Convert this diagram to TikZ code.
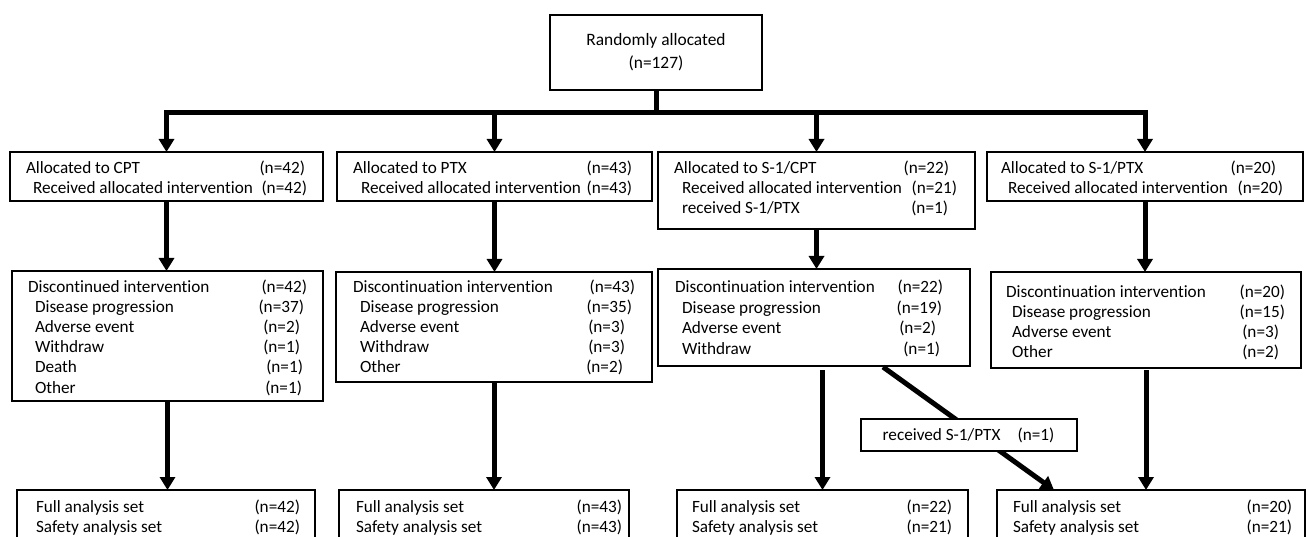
\documentclass[tikz,border=0pt]{standalone}
\usepackage{fontspec}
\setmainfont[Ligatures=NoCommon]{Carlito}
\usetikzlibrary{arrows.meta}
\tikzset{
  box/.style={draw, line width=1.6pt, inner sep=0pt, outer sep=0pt, fill=white},
  lbl/.style={inner sep=0pt, outer sep=0pt, text height=10.5pt, text depth=0pt, font=\fontsize{17.2pt}{20pt}\selectfont},
  biglbl/.style={lbl, font=\fontsize{17.4pt}{20pt}\selectfont},
  lw/.style={lbl, anchor=west},
  le/.style={lbl, anchor=east},
  conn/.style={line width=5pt},
  arr/.style={line width=5pt, -{Triangle[length=13pt,width=15pt]}},
}
\begin{document}
\begin{tikzpicture}[x=1pt,y=-1pt]
\useasboundingbox (0,0) rectangle (1308,537);
% top
\node[box, minimum width=212pt, minimum height=75pt] (top) at (656,52.5) {};
\node[biglbl] (topa) at (656,40) {Randomly allocated};
\node[biglbl] (topb) at (656,63) {(n=127)};
% row 1 boxes
\node[box, minimum width=313pt, minimum height=49pt] (r1a) at (166.5,176.5) {};
\node[box, minimum width=315pt, minimum height=49pt] (r1b) at (494.5,176.5) {};
\node[box, minimum width=317pt, minimum height=77pt] (r1c) at (816.5,190.5) {};
\node[box, minimum width=316pt, minimum height=49pt] (r1d) at (1145,176.5) {};
% row 2 boxes
\node[box, minimum width=311pt, minimum height=130pt] (r2a) at (167.5,336) {};
\node[box, minimum width=316pt, minimum height=110pt] (r2b) at (494,327) {};
\node[box, minimum width=312pt, minimum height=97pt] (r2c) at (814,317.5) {};
\node[box, minimum width=310pt, minimum height=96pt] (r2d) at (1146,320) {};
% row 3 boxes
\node[box, minimum width=298pt, minimum height=70pt] (r3a) at (166,525) {};
\node[box, minimum width=290pt, minimum height=70pt] (r3b) at (484,525) {};
\node[box, minimum width=291pt, minimum height=70pt] (r3c) at (822.5,525) {};
\node[box, minimum width=308pt, minimum height=70pt] (r3d) at (1151,525) {};
% connectors
\coordinate (bar) at (656,113);
\draw[conn] (top.south) -- (bar);
\draw[conn, line cap=rect] (bar -| r1a.north) -- (bar -| r1d.north);
\foreach \b in {r1a,r1b,r1c,r1d}{
  \draw[arr] (bar -| \b.north) -- (\b.north);
}
\draw[arr] (r1a.south) -- (r1a.south |- r2a.north);
\draw[arr] (r1b.south) -- (r1b.south |- r2b.north);
\draw[arr] (r1c.south) -- (r1c.south |- r2c.north);
\draw[arr] (r1d.south) -- (r1d.south |- r2d.north);
\draw[arr] (r2a.south) -- (r2a.south |- r3a.north);
\draw[arr] (r2b.south) -- (r2b.south |- r3b.north);
\draw[arr] ([yshift=-4pt]r2c.south -| r3c.north) -- (r3c.north);
\draw[arr] ([yshift=-2pt]r2d.south) -- (r2d.south |- r3d.north);
\draw[arr] ([xshift=69pt,yshift=-1pt]r2c.south) -- ([xshift=-97pt]r3d.north);
\node[box, minimum width=216pt, minimum height=32pt] (rx) at (969,435) {};
\node[lbl] (rxt) at (968.5,435) {received S-1/PTX\quad (n=1)};
% row 1 text
\node[lw] (r1a1) at (26,168) {Allocated to CPT};
\node[le] (r1a1n) at (305,168) {(n=42)};
\node[lw] (r1a2) at (33,188) {Received allocated intervention};
\node[le] (r1a2n) at (307,188) {(n=42)};
\node[lw] (r1b1) at (353,168) {Allocated to PTX};
\node[le] (r1b1n) at (632,168) {(n=43)};
\node[lw] (r1b2) at (361,188) {Received allocated intervention};
\node[le] (r1b2n) at (632,188) {(n=43)};
\node[lw] (r1c1) at (674,168) {Allocated to S-1/CPT};
\node[le] (r1c1n) at (949,168) {(n=22)};
\node[lw] (r1c2) at (682,188) {Received allocated intervention};
\node[le] (r1c2n) at (957,188) {(n=21)};
\node[lw] (r1c3) at (682,208) {received S-1/PTX};
\node[le] (r1c3n) at (948,208) {(n=1)};
\node[lw] (r1d1) at (1001,168) {Allocated to S-1/PTX};
\node[le] (r1d1n) at (1276,168) {(n=20)};
\node[lw] (r1d2) at (1008,188) {Received allocated intervention};
\node[le] (r1d2n) at (1283,188) {(n=20)};
% row 2 text
\node[lw] (r2a1) at (28,287) {Discontinued intervention};
\node[le] (r2a1n) at (307,287) {(n=42)};
\node[lw] (r2a2) at (35,307) {Disease progression};
\node[le] (r2a2n) at (304,307) {(n=37)};
\node[lw] (r2a3) at (35,327) {Adverse event};
\node[le] (r2a3n) at (300,327) {(n=2)};
\node[lw] (r2a4) at (35,347) {Withdraw};
\node[le] (r2a4n) at (300,347) {(n=1)};
\node[lw] (r2a5) at (35,367) {Death};
\node[le] (r2a5n) at (303,367) {(n=1)};
\node[lw] (r2a6) at (35,388) {Other};
\node[le] (r2a6n) at (302,388) {(n=1)};
\node[lw] (r2b1) at (353,287) {Discontinuation intervention};
\node[le] (r2b1n) at (635,287) {(n=43)};
\node[lw] (r2b2) at (360,307) {Disease progression};
\node[le] (r2b2n) at (632,307) {(n=35)};
\node[lw] (r2b3) at (360,327) {Adverse event};
\node[le] (r2b3n) at (625,327) {(n=3)};
\node[lw] (r2b4) at (360,347) {Withdraw};
\node[le] (r2b4n) at (625,347) {(n=3)};
\node[lw] (r2b5) at (360,367) {Other};
\node[le] (r2b5n) at (623,367) {(n=2)};
\node[lw] (r2c1) at (675,287) {Discontinuation intervention};
\node[le] (r2c1n) at (943,287) {(n=22)};
\node[lw] (r2c2) at (682,308) {Disease progression};
\node[le] (r2c2n) at (942,308) {(n=19)};
\node[lw] (r2c3) at (682,328) {Adverse event};
\node[le] (r2c3n) at (936,328) {(n=2)};
\node[lw] (r2c4) at (682,349) {Withdraw};
\node[le] (r2c4n) at (940,349) {(n=1)};
\node[lw] (r2d1) at (1006,292) {Discontinuation intervention};
\node[le] (r2d1n) at (1285,292) {(n=20)};
\node[lw] (r2d2) at (1012,312) {Disease progression};
\node[le] (r2d2n) at (1285,312) {(n=15)};
\node[lw] (r2d3) at (1012,332) {Adverse event};
\node[le] (r2d3n) at (1279,332) {(n=3)};
\node[lw] (r2d4) at (1012,352) {Other};
\node[le] (r2d4n) at (1279,352) {(n=2)};
% row 3 text
\node[lw] (r3a1) at (36,507) {Full analysis set};
\node[le] (r3a1n) at (300,507) {(n=42)};
\node[lw] (r3a2) at (36,527) {Safety analysis set};
\node[le] (r3a2n) at (300,527) {(n=42)};
\node[lw] (r3b1) at (356,507) {Full analysis set};
\node[le] (r3b1n) at (622,507) {(n=43)};
\node[lw] (r3b2) at (356,527) {Safety analysis set};
\node[le] (r3b2n) at (622,527) {(n=43)};
\node[lw] (r3c1) at (692,507) {Full analysis set};
\node[le] (r3c1n) at (952,507) {(n=22)};
\node[lw] (r3c2) at (692,527) {Safety analysis set};
\node[le] (r3c2n) at (952,527) {(n=21)};
\node[lw] (r3d1) at (1013,507) {Full analysis set};
\node[le] (r3d1n) at (1292,507) {(n=20)};
\node[lw] (r3d2) at (1013,527) {Safety analysis set};
\node[le] (r3d2n) at (1292,527) {(n=21)};
\end{tikzpicture}
\end{document}
